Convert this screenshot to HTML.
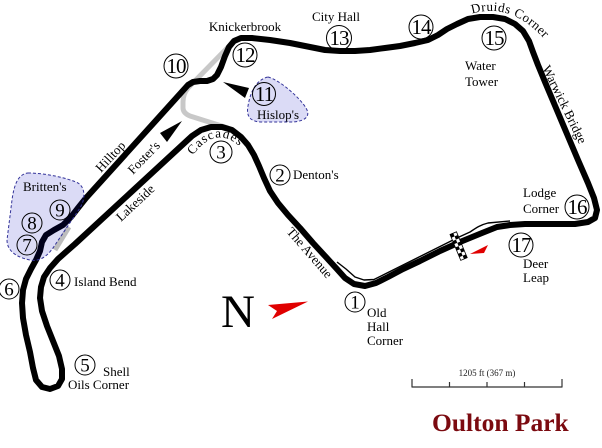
<!DOCTYPE html>
<html><head><meta charset="utf-8"><style>
html,body{margin:0;padding:0;background:#fff;}
svg{display:block;}
text{font-family:"Liberation Serif",serif;fill:#000;}
.l{font-size:13px;}
.d1{font-size:19px;text-anchor:middle;}
.d2{font-size:21px;text-anchor:middle;letter-spacing:-1px;}
</style></head><body>
<svg width="602" height="448" viewBox="0 0 602 448" xmlns="http://www.w3.org/2000/svg">
<rect width="602" height="448" fill="#fff"/>
<defs>
<path id="casc" d="M 191,158 Q 217,120 245,152"/>
<path id="druid" d="M 471,14 Q 512,1 547,42"/>
</defs>

<!-- old (grey) track sections -->
<path d="M 236,39 L 188,88 Q 183,94 183,102 L 183,108 Q 183,113 190,116 L 228,128" fill="none" stroke="#c8c8c8" stroke-width="5" stroke-linejoin="round"/>
<path d="M 69,227 L 55,250" fill="none" stroke="#bdbdbd" stroke-width="5"/>

<!-- main track -->
<path d="M 460,242 L 440,251 L 420,261 L 403,269 L 388,277 L 376,283 L 365,286 L 354,284 L 345,278 L 336,268 L 325,256 L 313,243 L 300,228 L 288,215 L 278,203 L 270,191 L 264,178 L 259,166 L 254,155 L 248,145 L 241,137 L 232,130 L 222,127 L 211,127 L 201,130 L 192,136 L 75,244 L 67,251 L 58,259 L 50,268 L 44,277 L 41,287 L 40,298 L 42,311 L 47,326 L 53,341 L 59,356 L 62,369 L 62,379 L 58,386 L 50,389 L 42,387 L 36,380 L 33,368 L 30,352 L 26,335 L 23,318 L 22,303 L 23,290 L 26,279 L 31,269 L 36,260 L 40,251 L 42,242 L 46,235 L 54,230 L 63,225 L 71,217 L 78,208 L 86,198 L 188,85 L 193,82 L 200,81 L 207,81 L 213,79 L 217,75 L 221,67 L 225,56 L 229,47 L 234,41 L 241,38 L 252,38 L 270,40 L 290,43 L 310,47 L 325,50 L 340,51 L 355,51 L 370,50 L 385,48 L 400,46 L 415,43 L 428,40 L 438,35 L 447,29 L 457,24 L 468,19 L 480,17 L 493,17 L 505,19 L 515,24 L 523,31 L 529,41 L 533,52 L 538,65 L 545,82 L 556,108 L 567,134 L 578,160 L 588,183 L 594,198 L 597,210 L 595,218 L 588,222 L 575,224 L 550,224 L 525,224 L 510,225 L 497,227 L 482,233 Z" fill="none" stroke="#000" stroke-width="6" stroke-linejoin="round" stroke-linecap="round"/>

<!-- pit lane -->
<path d="M 337,262 L 346,269 L 355,277 L 364,280 L 374,279.5 L 386,273.5 L 401,266 L 458,237.5 L 470,232 C 476,228 480,225 488,223 L 510,221" fill="none" stroke="#000" stroke-width="1.4" stroke-linejoin="round"/>

<!-- chequered flag -->
<g transform="rotate(-22.5 459 247)">
<rect x="455.5" y="232" width="7" height="28" fill="#fff" stroke="#000" stroke-width="0.8"/>
<rect x="455.5" y="232" width="3.5" height="3.5"/>
<rect x="459" y="235.5" width="3.5" height="3.5"/>
<rect x="455.5" y="239" width="3.5" height="3.5"/>
<rect x="459" y="242.5" width="3.5" height="3.5"/>
<rect x="455.5" y="246" width="3.5" height="3.5"/>
<rect x="459" y="249.5" width="3.5" height="3.5"/>
<rect x="455.5" y="253" width="3.5" height="3.5"/>
<rect x="459" y="256.5" width="3.5" height="3.5"/>
</g>

<!-- red arrows -->
<polygon points="470,254 488,245 484,253" fill="#e00000"/>
<polygon points="268,305 308,301.5 272,319 277,311" fill="#e00000"/>

<!-- black direction wedges -->
<polygon points="223,82 249,88 245,98" fill="#000"/>
<polygon points="182,121 160,133 167,142" fill="#000"/>

<!-- blue regions -->
<path d="M 28,173 C 45,173 68,178 78,183 C 86,188 85,200 80,208 L 55,245 C 48,256 40,262 30,260 C 15,257 7,250 7,240 L 12,200 C 14,185 18,174 28,173 Z" fill="#0000c0" fill-opacity="0.14" stroke="#333399" stroke-width="1" stroke-dasharray="3,2"/>
<path d="M 268,77 C 280,80 300,98 306,108 C 312,118 302,122 290,122 L 262,122 C 250,122 246,116 248,106 C 250,94 255,80 268,77 Z" fill="#0000c0" fill-opacity="0.14" stroke="#333399" stroke-width="1" stroke-dasharray="3,2"/>

<!-- numbered circles -->
<g fill="none" stroke="#000" stroke-width="1">
<circle cx="355" cy="302" r="10"/>
<circle cx="280" cy="175" r="10"/>
<circle cx="221" cy="152" r="11"/>
<circle cx="60" cy="280" r="10"/>
<circle cx="85" cy="365" r="10"/>
<circle cx="9" cy="289" r="10"/>
<circle cx="27" cy="245" r="10"/>
<circle cx="32" cy="223" r="10"/>
<circle cx="60" cy="210" r="10"/>
<circle cx="176" cy="66" r="12"/>
<circle cx="264" cy="94" r="11.5"/>
<circle cx="245" cy="55" r="12"/>
<circle cx="339" cy="38" r="12.5"/>
<circle cx="421" cy="27" r="12"/>
<circle cx="494" cy="38" r="12"/>
<circle cx="577" cy="207" r="12"/>
<circle cx="521" cy="245" r="12"/>
</g>
<text class="d1" x="355" y="308.5">1</text>
<text class="d1" x="280" y="181.5">2</text>
<text class="d1" x="221" y="158.5">3</text>
<text class="d1" x="60" y="286.5">4</text>
<text class="d1" x="85" y="371.5">5</text>
<text class="d1" x="9" y="295.5">6</text>
<text class="d1" x="27" y="251.5">7</text>
<text class="d1" x="32" y="229.5">8</text>
<text class="d1" x="60" y="216.5">9</text>
<text class="d2" x="176" y="73">10</text>
<text class="d2" x="264" y="101">11</text>
<text class="d2" x="245" y="62">12</text>
<text class="d2" x="339" y="45">13</text>
<text class="d2" x="421" y="34">14</text>
<text class="d2" x="494" y="45">15</text>
<text class="d2" x="577" y="214">16</text>
<text class="d2" x="521" y="252">17</text>

<!-- labels -->
<text class="l" x="245" y="31" text-anchor="middle">Knickerbrook</text>
<text class="l" x="312" y="21">City Hall</text>
<text class="l" x="465" y="70">Water</text>
<text class="l" x="465" y="86">Tower</text>
<text class="l" x="523" y="197">Lodge</text>
<text class="l" x="523" y="213">Corner</text>
<text class="l" x="523" y="268">Deer</text>
<text class="l" x="523" y="282">Leap</text>
<text class="l" x="367" y="317">Old</text>
<text class="l" x="367" y="331">Hall</text>
<text class="l" x="367" y="345">Corner</text>
<text class="l" x="293" y="179">Denton's</text>
<text class="l" x="74" y="286">Island Bend</text>
<text class="l" x="103" y="376">Shell</text>
<text class="l" x="68" y="389">Oils Corner</text>
<text class="l" x="257" y="119">Hislop's</text>
<text class="l" x="23" y="191">Britten's</text>

<text class="l" transform="translate(542,68) rotate(64)">Warwick Bridge</text>
<text class="l" transform="translate(286,232) rotate(49)">The Avenue</text>
<text class="l" transform="translate(101,173) rotate(-47)">Hilltop</text>
<text class="l" transform="translate(133,175) rotate(-46)">Foster's</text>
<text class="l" transform="translate(121,222) rotate(-43)">Lakeside</text>
<text class="l" letter-spacing="1"><textPath href="#casc" startOffset="3">Cascades</textPath></text>
<text class="l" letter-spacing="0.5"><textPath href="#druid" startOffset="1">Druids Corner</textPath></text>

<!-- north -->
<text x="221" y="327" style="font-size:47px;">N</text>

<!-- scale bar -->
<g stroke="#333" stroke-width="1.2" fill="none">
<line x1="412" y1="387" x2="562" y2="387"/>
<line x1="412" y1="379" x2="412" y2="387.5"/>
<line x1="562" y1="379" x2="562" y2="387.5"/>
<line x1="449.5" y1="382" x2="449.5" y2="387"/>
<line x1="487" y1="382" x2="487" y2="387"/>
<line x1="524.5" y1="382" x2="524.5" y2="387"/>
</g>
<text x="487" y="376" text-anchor="middle" style="font-size:9px;fill:#222;">1205 ft (367 m)</text>

<text x="432" y="431" style="font-size:25.5px;font-weight:bold;fill:#7b0a10;">Oulton Park</text>
</svg>
</body></html>
